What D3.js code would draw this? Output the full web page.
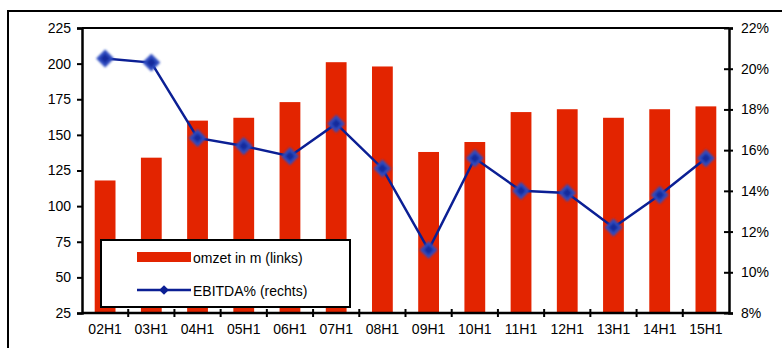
<!DOCTYPE html>
<html><head><meta charset="utf-8">
<script src="https://cdn.jsdelivr.net/npm/d3@7"></script>
<style>body{margin:0;background:#fff;}svg{display:block;font-family:"Liberation Sans",Arial,sans-serif;}</style>
</head><body>
<svg id="c" width="782" height="348"></svg>
<script>
const categories = ["02H1","03H1","04H1","05H1","06H1","07H1","08H1","09H1","10H1","11H1","12H1","13H1","14H1","15H1"];
const omzet = [118,134,160,162,173,201,198,138,145,166,168,162,168,170];
const ebitda = [20.5,20.3,16.6,16.2,15.7,17.3,15.1,11.1,15.6,14.0,13.9,12.2,13.8,15.6];
const leftTicks = [25,50,75,100,125,150,175,200,225];
const rightTicks = [8,10,12,14,16,18,20,22];
const legendLabels = ["omzet in m (links)","EBITDA% (rechts)"];

const svg = d3.select("#c");
const L=82, R=729, T=28, B=313;
const barColor="#e32400", lineColor="#0b1f94";

const defs = svg.append("defs");
defs.append("filter").attr("id","blur").attr("x","-50%").attr("y","-50%").attr("width","200%").attr("height","200%")
  .append("feGaussianBlur").attr("stdDeviation",0.9);

// outer border
svg.append("rect").attr("x",8).attr("y",11).attr("width",800).attr("height",400)
  .attr("fill","none").attr("stroke","#000").attr("stroke-width",2);

const x = d3.scaleBand().domain(categories).range([L,R]).paddingInner(0.55).paddingOuter(0.275);
const xb = d3.scaleBand().domain(categories).range([L,R]);
const yL = d3.scaleLinear().domain([25,225]).range([B,T]);
const yR = d3.scaleLinear().domain([8,22]).range([B,T]);

// bars
svg.append("g").selectAll("rect").data(omzet).join("rect")
  .attr("x",(d,i)=>x(categories[i])).attr("width",x.bandwidth())
  .attr("y",d=>yL(d)).attr("height",d=>B-yL(d)).attr("fill",barColor);

// frame top
svg.append("line").attr("x1",L).attr("x2",R).attr("y1",T).attr("y2",T).attr("stroke","#000").attr("stroke-width",2);

// left axis
const gl = svg.append("g").attr("transform",`translate(${L},0)`)
  .call(d3.axisLeft(yL).tickValues(leftTicks).tickSize(5).tickPadding(6));
// right axis
const gr = svg.append("g").attr("transform",`translate(${R},0)`)
  .call(d3.axisRight(yR).tickValues(rightTicks).tickFormat(d=>d+"%").tickSize(4).tickPadding(8));
gr.selectAll(".tick line").attr("x1",-5);
// bottom axis
const gb = svg.append("g").attr("transform",`translate(0,${B})`)
  .call(d3.axisBottom(xb).tickSize(0).tickPadding(11));
// separator ticks between categories
svg.append("g").selectAll("line").data(d3.range(1,categories.length)).join("line")
  .attr("x1",i=>L+xb.step()*i).attr("x2",i=>L+xb.step()*i)
  .attr("y1",B-4).attr("y2",B+4).attr("stroke","#000").attr("stroke-width",2);

[gl,gr,gb].forEach(g=>{
  g.selectAll(".domain").attr("stroke","#000").attr("stroke-width",2.5);
  g.selectAll(".tick line").attr("stroke","#000").attr("stroke-width",2);
  g.selectAll("text").attr("fill","#000").attr("font-size",14).attr("font-family","Liberation Sans, Arial, sans-serif");
});
gb.selectAll(".domain").attr("d",`M${L},0H${R}`);

// line
const cx = (i)=>xb(categories[i])+xb.bandwidth()/2;
svg.append("path").datum(ebitda)
  .attr("d",d3.line().x((d,i)=>cx(i)).y(d=>yR(d)))
  .attr("fill","none").attr("stroke",lineColor).attr("stroke-width",2.5);
const diamond = d3.symbol().type(d3.symbolDiamond2).size(120);
svg.append("g").selectAll("path").data(ebitda).join("path")
  .attr("d",diamond).attr("transform",(d,i)=>`translate(${cx(i)},${yR(d)})`)
  .attr("fill","#14299c").attr("stroke","#2f4cc0").attr("stroke-width",3).attr("filter","url(#blur)");

// legend
const lg = svg.append("g");
lg.append("rect").attr("x",101).attr("y",240).attr("width",249).attr("height",67)
  .attr("fill","#fff").attr("stroke","#000").attr("stroke-width",2);
lg.append("rect").attr("x",137).attr("y",252).attr("width",54).attr("height",10).attr("fill",barColor);
lg.append("text").attr("x",193).attr("y",263).attr("font-size",14).text(legendLabels[0]);
lg.append("line").attr("x1",137).attr("x2",191).attr("y1",290).attr("y2",290).attr("stroke",lineColor).attr("stroke-width",2.5);
lg.append("path").attr("d",d3.symbol().type(d3.symbolDiamond2).size(60)).attr("transform","translate(164,290)").attr("fill","#0b1f94");
lg.append("text").attr("x",193).attr("y",296).attr("font-size",14).text(legendLabels[1]);
</script>
</body></html>
